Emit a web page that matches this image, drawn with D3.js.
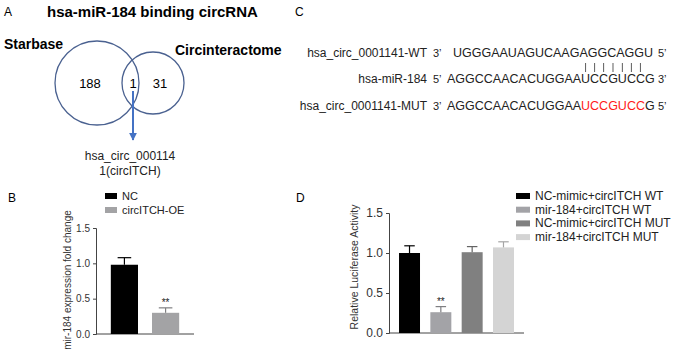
<!DOCTYPE html>
<html>
<head>
<meta charset="utf-8">
<script src="https://cdn.jsdelivr.net/npm/d3@7"></script>
<style>
  body { margin: 0; background: #fff; }
  text { font-family: Arial, "Liberation Sans", sans-serif; }
</style>
</head>
<body>
<script>
var w = 679;
var h = 353;

// panel A: venn counts
var vennSets = ["Starbase", "Circinteractome"];
var vennCounts = [188, 1, 31];
var vennResult = ["hsa_circ_000114", "1(circITCH)"];

// panel C: sequences
var seqLabels = ["hsa_circ_0001141-WT", "hsa-miR-184", "hsa_circ_0001141-MUT"];
var seqs = ["UGGGAAUAGUCAAGAGGCAGGU", "AGGCCAACACUGGAAUCCGUCCG", "AGGCCAACACUGGAAUCCGUCCG"];
var seqLeft = ["3\u2019", "5\u2019", "3\u2019"];
var seqRight = ["5\u2019", "3\u2019", "5\u2019"];
var seedStart = 15, seedEnd = 22;

// panel B
var bCats = ["NC", "circITCH-OE"];
var bVals = [0.98, 0.30];
var bErr = [0.10, 0.07];
var bColors = ["#000000", "#a3a3a5"];

// panel D
var dCats = ["NC-mimic+circITCH WT", "mir-184+circITCH WT", "NC-mimic+circITCH MUT", "mir-184+circITCH MUT"];
var dVals = [1.00, 0.26, 1.01, 1.07];
var dErr = [0.09, 0.07, 0.07, 0.07];
var dColors = ["#000000", "#a3a3a7", "#808080", "#d4d4d4"];

var yTicks = [0, 0.5, 1.0, 1.5];

var svg = d3.select("body").append("svg")
            .attr("width", w)
            .attr("height", h);

// panel letters
svg.append("text").attr("x", 4).attr("y", 16).attr("font-size", "12px").text("A");
svg.append("text").attr("x", 295).attr("y", 16).attr("font-size", "12px").text("C");
svg.append("text").attr("x", 8).attr("y", 202).attr("font-size", "12px").text("B");
svg.append("text").attr("x", 296).attr("y", 202).attr("font-size", "12px").text("D");

// ---- A: venn ----
svg.append("text").attr("x", 47).attr("y", 17)
   .attr("font-size", "15px").attr("font-weight", "bold")
   .text("hsa-miR-184 binding circRNA");
svg.append("text").attr("x", 4).attr("y", 49)
   .attr("font-size", "14px").attr("font-weight", "bold").text(vennSets[0]);
svg.append("text").attr("x", 175).attr("y", 55)
   .attr("font-size", "14px").attr("font-weight", "bold").text(vennSets[1]);

var circles = [{cx: 97, cy: 83, r: 42}, {cx: 153, cy: 83, r: 31}];
svg.selectAll("circle.venn")
   .data(circles)
   .enter()
   .append("circle")
   .attr("class", "venn")
   .attr("cx", function(d){return d.cx;})
   .attr("cy", function(d){return d.cy;})
   .attr("r", function(d){return d.r;})
   .attr("fill", "none")
   .attr("stroke", "#4a6190")
   .attr("stroke-width", 1.3);

var numX = [90, 133, 160];
svg.selectAll("text.vnum")
   .data(vennCounts)
   .enter()
   .append("text")
   .attr("class", "vnum")
   .attr("x", function(d, i){return numX[i];})
   .attr("y", 88)
   .attr("text-anchor", "middle")
   .attr("font-size", "13px")
   .text(function(d){return d;});

svg.append("defs").append("marker")
   .attr("id", "arr")
   .attr("viewBox", "0 0 10 10")
   .attr("refX", 9).attr("refY", 5)
   .attr("markerWidth", 4).attr("markerHeight", 4)
   .attr("orient", "auto")
   .append("path").attr("d", "M0,0L10,5L0,10z").attr("fill", "#4472c4");
svg.append("line")
   .attr("x1", 133).attr("y1", 91).attr("x2", 133).attr("y2", 140)
   .attr("stroke", "#4472c4").attr("stroke-width", 2)
   .attr("marker-end", "url(#arr)");

svg.selectAll("text.vres")
   .data(vennResult)
   .enter()
   .append("text")
   .attr("class", "vres")
   .attr("x", 130)
   .attr("y", function(d, i){return 160 + i * 15;})
   .attr("text-anchor", "middle")
   .attr("font-size", "12px")
   .attr("fill", "#222")
   .text(function(d){return d;});

// ---- C: sequences ----
var rowY = [57, 83, 110];
var seqX = [453, 447, 447];
seqLabels.forEach(function(lab, i) {
  svg.append("text").attr("x", 427).attr("y", rowY[i])
     .attr("text-anchor", "end").attr("font-size", "12px").attr("fill", "#222").text(lab);
  svg.append("text").attr("x", 433).attr("y", rowY[i])
     .attr("font-family", "'Liberation Serif', 'DejaVu Serif', serif")
     .attr("font-size", "11px").attr("fill", "#222").text(seqLeft[i]);
  svg.append("text").attr("x", 658).attr("y", rowY[i])
     .attr("font-family", "'Liberation Serif', 'DejaVu Serif', serif")
     .attr("font-size", "11px").attr("fill", "#222").text(seqRight[i]);
  var t = svg.append("text").attr("class", "seq" + i).attr("x", seqX[i]).attr("y", rowY[i])
     .attr("font-size", "12.5px").attr("fill", "#222");
  if (i === 2) {
    t.append("tspan").text(seqs[i].slice(0, seedStart));
    t.append("tspan").attr("fill", "#ff1a1a").text(seqs[i].slice(seedStart, seedEnd));
    t.append("tspan").text(seqs[i].slice(seedEnd));
  } else {
    t.text(seqs[i]);
  }
});

// pairing bars over the seed of the miRNA row
var mirNode = svg.select("text.seq1").node();
var seedIdx = d3.range(seedStart, seedEnd);
svg.selectAll("line.pair")
   .data(seedIdx)
   .enter()
   .append("line")
   .attr("class", "pair")
   .attr("x1", function(d){var b = mirNode.getExtentOfChar(d); return b.x + b.width / 2;})
   .attr("x2", function(d){var b = mirNode.getExtentOfChar(d); return b.x + b.width / 2;})
   .attr("y1", 63).attr("y2", 72)
   .attr("stroke", "#333").attr("stroke-width", 0.8);

// ---- bar chart helper ----
function barChart(opt) {
  var g = svg.append("g");
  var x = d3.scaleBand().domain(opt.cats).range([opt.x0, opt.x1])
            .paddingInner(opt.pin).paddingOuter(opt.pout);
  var y = d3.scaleLinear().domain([0, 1.5]).range([opt.y0, opt.y1]);

  var ax = g.append("g").attr("transform", "translate(" + opt.x0 + ",0)")
            .call(d3.axisLeft(y).tickValues(yTicks).tickFormat(d3.format(".1f")).tickSize(3));
  ax.selectAll("text").attr("font-size", opt.tickFont).attr("font-family", "Arial, sans-serif").attr("fill", "#333");
  ax.selectAll("line, path").attr("stroke", "#444");

  g.append("line").attr("x1", opt.x0).attr("x2", opt.x1)
   .attr("y1", opt.y0).attr("y2", opt.y0).attr("stroke", "#444");

  g.selectAll("rect.bar")
   .data(opt.vals)
   .enter()
   .append("rect")
   .attr("class", "bar")
   .attr("x", function(d, i){return x(opt.cats[i]);})
   .attr("y", function(d){return y(d);})
   .attr("width", x.bandwidth())
   .attr("height", function(d){return y(0) - y(d);})
   .attr("fill", function(d, i){return opt.colors[i];});

  var cap = x.bandwidth() * 0.25;
  opt.vals.forEach(function(v, i) {
    var cx = x(opt.cats[i]) + x.bandwidth() / 2;
    var ec = i === 0 ? "#000" : d3.color(opt.colors[i]).darker(0.7);
    g.append("line").attr("x1", cx).attr("x2", cx)
     .attr("y1", y(v)).attr("y2", y(v + opt.err[i])).attr("stroke", ec).attr("stroke-width", 1.2);
    g.append("line").attr("x1", cx - cap).attr("x2", cx + cap)
     .attr("y1", y(v + opt.err[i])).attr("y2", y(v + opt.err[i])).attr("stroke", ec).attr("stroke-width", 1.2);
  });

  g.append("text").attr("x", x(opt.cats[1]) + x.bandwidth() / 2)
   .attr("y", y(opt.vals[1] + opt.err[1]) - 2)
   .attr("text-anchor", "middle").attr("font-size", "10px").attr("fill", "#222").text("**");

  g.append("text")
   .attr("transform", "translate(" + opt.labX + "," + opt.labY + ") rotate(-90)")
   .attr("text-anchor", "middle").attr("font-size", opt.labFont).attr("fill", "#333")
   .text(opt.label);

  g.selectAll("rect.leg")
   .data(opt.cats)
   .enter()
   .append("rect")
   .attr("class", "leg")
   .attr("x", opt.legX)
   .attr("y", function(d, i){return opt.legY + i * opt.legStep - 3;})
   .attr("width", opt.legW).attr("height", 6)
   .attr("fill", function(d, i){return opt.colors[i];});
  g.selectAll("text.leg")
   .data(opt.cats)
   .enter()
   .append("text")
   .attr("class", "leg")
   .attr("x", opt.legX + opt.legW + 5)
   .attr("y", function(d, i){return opt.legY + i * opt.legStep + 4;})
   .attr("font-size", opt.legFont).attr("fill", "#222")
   .text(function(d){return d;});
}

barChart({
  cats: bCats, vals: bVals, err: bErr, colors: bColors,
  x0: 96, x1: 194, y0: 334, y1: 228, pin: 0.34, pout: 0.36,
  tickFont: "10px", label: "mir-184 expression fold change", labX: 71, labY: 280, labFont: "10px",
  legX: 105, legY: 196, legStep: 14, legW: 12, legFont: "11px"
});

barChart({
  cats: dCats, vals: dVals, err: dErr, colors: dColors,
  x0: 389, x1: 524, y0: 333, y1: 213, pin: 0.33, pout: 0.32,
  tickFont: "12px", label: "Relative Luciferase Activity", labX: 358, labY: 267, labFont: "10.5px",
  legX: 516, legY: 196, legStep: 13.7, legW: 14, legFont: "12px"
});
</script>
</body>
</html>
